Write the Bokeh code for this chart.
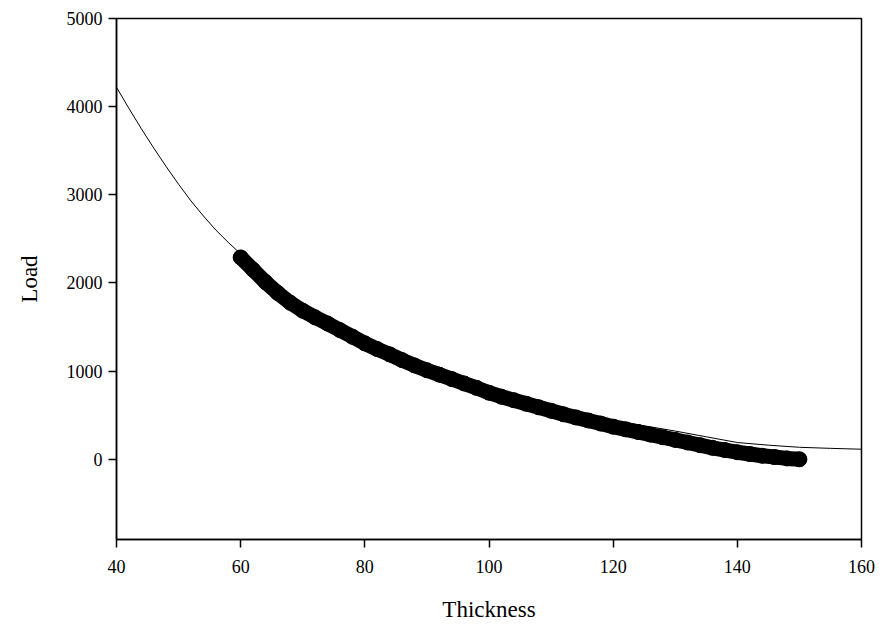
from bokeh.plotting import figure
from bokeh.models import Range1d, FixedTicker, LinearAxis
from bokeh.embed import file_html
from bokeh.resources import INLINE

# Thin fitted curve
fit_x = [40, 42, 44, 46, 48, 50, 52, 54, 56, 58, 60, 65, 70, 75, 80, 85, 90, 95, 100,
         105, 110, 115, 120, 125, 130, 135, 140, 145, 150, 155, 160]
fit_y = [4220, 3980, 3750, 3530, 3320, 3120, 2930, 2760, 2600, 2460, 2330, 2020, 1750,
         1530, 1340, 1170, 1020, 890, 780, 680, 590, 510, 440, 380, 320, 255, 190, 160,
         136, 124, 114]

# Thick measured series
data_x = [60, 62, 64, 66, 68, 70, 72, 74, 76, 78, 80, 82, 84, 86, 88, 90, 92, 94, 96, 98,
          100, 102, 104, 106, 108, 110, 112, 114, 116, 118, 120, 122, 124, 126, 128, 130,
          132, 134, 136, 138, 140, 142, 144, 146, 148, 150]
data_y = [2290, 2150, 2010, 1885, 1775, 1685, 1610, 1540, 1465, 1390, 1315, 1250, 1190,
          1125, 1065, 1010, 960, 910, 860, 810, 755, 710, 670, 630, 590, 550, 510, 475,
          440, 405, 370, 340, 310, 280, 250, 220, 190, 160, 130, 105, 80, 60, 40, 25, 10, 0]

x_ticks = [40, 60, 80, 100, 120, 140, 160]
y_ticks = [0, 1000, 2000, 3000, 4000, 5000]

FONT = "Liberation Serif"

p = figure(width=875, height=626, output_backend="svg", toolbar_location=None,
           x_range=Range1d(40, 160), y_range=Range1d(-910, 5000),
           x_axis_location=None, y_axis_location=None)
p.min_border_left = 116
p.min_border_right = 14
p.min_border_top = 18
p.min_border_bottom = 87
p.xgrid.visible = False
p.ygrid.visible = False
p.outline_line_color = "black"
p.outline_line_width = 1.5
p.background_fill_color = "white"
p.border_fill_color = "white"

xa = LinearAxis(ticker=FixedTicker(ticks=x_ticks), axis_label="Thickness")
ya = LinearAxis(ticker=FixedTicker(ticks=y_ticks), axis_label="Load")
for ax in (xa, ya):
    ax.axis_line_color = "black"
    ax.axis_line_width = 1.5
    ax.major_tick_line_color = "black"
    ax.major_tick_line_width = 1.5
    ax.major_tick_out = 8
    ax.major_tick_in = 0
    ax.minor_tick_line_color = None
    ax.major_label_text_font = FONT
    ax.major_label_text_font_size = "18px"
    ax.major_label_text_color = "black"
    ax.axis_label_text_font = FONT
    ax.axis_label_text_font_size = "23px"
    ax.axis_label_text_font_style = "normal"
    ax.axis_label_text_color = "black"
xa.major_label_standoff = 12
xa.axis_label_standoff = 21
ya.major_label_standoff = 6
ya.axis_label_standoff = 22
p.add_layout(xa, "below")
p.add_layout(ya, "left")

p.line(fit_x, fit_y, line_color="black", line_width=1)
p.line(data_x, data_y, line_color="black", line_width=15, line_cap="round", line_join="round")
p.scatter(data_x, data_y, marker="circle", size=15, fill_color="black", line_color="black")

open("out.html", "w").write(file_html(p, INLINE))
